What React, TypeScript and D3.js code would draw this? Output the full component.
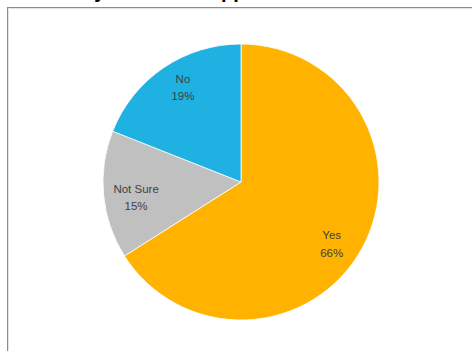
import React from "react";
import * as d3 from "d3";

const categories = ["Yes", "Not Sure", "No"];
const values = [66, 15, 19];
const colors = ["#FFB300", "#C0C0C0", "#1FB1E2"];
const titleText = "Do you like the app?";

const W = 472;
const H = 351;
const cx = 241;
const cy = 182;
const R = 138;
// small best-fit label nudges (px) like the spreadsheet's label placement
const labelNudge = [
  [-6, 7],
  [5, 3],
  [4, -5],
];

export default function App() {
  const data = categories.map((c, i) => ({ name: c, value: values[i], color: colors[i] }));
  const pie = d3.pie<any>().value((d: any) => d.value).sort(null);
  const arcs = pie(data);
  const arcGen = d3.arc<any>().innerRadius(0).outerRadius(R);
  const labelArc = d3.arc<any>().innerRadius(R * 0.8).outerRadius(R * 0.8);

  return (
    <svg
      width={W}
      height={H}
      style={{ position: "fixed", left: 0, top: 0, background: "#fff" }}
    >
      <rect x={0} y={0} width={W} height={H} fill="#fff" />
      <text
        x={62}
        y={-2}
        fontFamily="Liberation Sans, Arial, sans-serif"
        fontWeight="bold"
        fontSize={20}
        fill="#000"
      >
        {titleText}
      </text>
      <rect x={7.5} y={7.5} width={W + 10} height={H + 10} fill="none" stroke="#8c8c8c" strokeWidth={1} />
      <rect x={8.5} y={8.5} width={W + 10} height={H + 10} fill="none" stroke="#e4e4e4" strokeWidth={1} />
      <g transform={`translate(${cx},${cy})`}>
        {arcs.map((a, i) => (
          <path key={i} d={arcGen(a) as string} fill={a.data.color} stroke="#fff" strokeWidth={0.8} />
        ))}
        {arcs.map((a, i) => {
          const [x0, y0] = labelArc.centroid(a);
          const x = x0 + labelNudge[i][0];
          const y = y0 + labelNudge[i][1];
          return (
            <text
              key={"l" + i}
              x={x}
              y={y}
              textAnchor="middle"
              fontFamily="Liberation Sans, Arial, sans-serif"
              fontSize={11.5}
              fill="#404040"
            >
              <tspan x={x} dy="-0.25em">{a.data.name}</tspan>
              <tspan x={x} dy="1.5em">{a.data.value + "%"}</tspan>
            </text>
          );
        })}
      </g>
    </svg>
  );
}
